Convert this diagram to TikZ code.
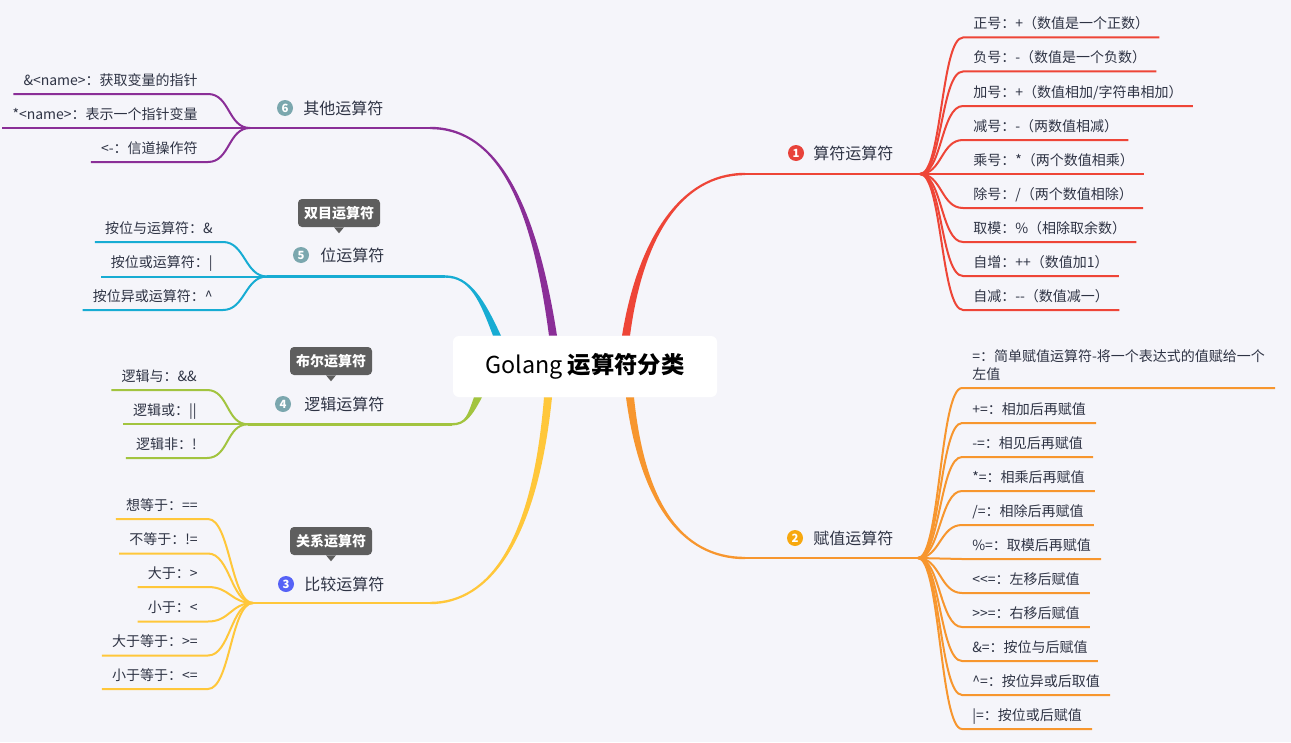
\documentclass[tikz,border=0pt]{standalone}
\usepackage{fontspec}
\setmainfont{Noto Sans CJK SC}
\usepackage{xcolor}
\usepackage{tikz}
\usetikzlibrary{calc}

\definecolor{bgc}{HTML}{F5F5FA}
\definecolor{cred}{HTML}{EE4537}
\definecolor{corange}{HTML}{F7962E}
\definecolor{cyellow}{HTML}{FFC73A}
\definecolor{cgreen}{HTML}{A2C43F}
\definecolor{cblue}{HTML}{17ACD3}
\definecolor{cpurple}{HTML}{8A2E97}
\definecolor{ctext}{HTML}{2E3344}
\definecolor{ctip}{HTML}{5E5E5E}
\definecolor{bred}{HTML}{E8423A}
\definecolor{bamber}{HTML}{F7A80F}
\definecolor{bindigo}{HTML}{5662F6}
\definecolor{bteal}{HTML}{7BA7AE}

% tapered main branch: colour, start, control 1, control 2, end, end offsets
\newcommand{\trunk}[7]{%
  \fill[#1] ($(#2)+(-4,0)$) .. controls ($(#3)+(-2.5,0)$) and ($(#4)+(#6)$) .. ($(#5)+(#6)$)
    -- ($(#5)+(#7)$) .. controls ($(#4)+(#7)$) and ($(#3)+(2.5,0)$) .. ($(#2)+(4,0)$) -- cycle;}

\begin{document}
\begin{tikzpicture}[
    x=0.75pt, y=-0.75pt,
    root/.style={
        fill=white,
        rounded corners=4.5pt,
        minimum width=198pt,
        minimum height=45.75pt,
        font=\fontsize{17.5}{20}\selectfont,
        text=black
    },
    topic/.style={anchor=west, inner sep=0pt, text=ctext, font=\fontsize{12}{14}\selectfont},
    badge/.style={circle, fill=#1, minimum size=12pt, inner sep=0pt, text=white,
        font=\fontsize{8.5}{9}\selectfont\bfseries},
    tip/.style={
        fill=ctip,
        rounded corners=3pt,
        text=white,
        font=\fontsize{10.5}{12}\selectfont\bfseries,
        minimum width=61.5pt,
        minimum height=21pt,
        inner sep=2pt
    },
    leaf/.style={font=\fontsize{10.5}{13.5}\selectfont, text=ctext, inner xsep=7.5pt,
        inner ysep=3.9pt, text height=7.9pt, text depth=2.6pt},
    leafr/.style={leaf, anchor=south west},
    leafl/.style={leaf, anchor=south east},
    twig/.style={line width=1.5pt, draw=#1},
    bar/.style={line width=1.9pt, draw=#1}
]

\fill[bgc] (0,0) rectangle (1291,742);
\useasboundingbox (0,0) rectangle (1291,742);

\node[root] (root) at (585,366.5) {Golang \textbf{运算符分类}};

\coordinate (s1) at ($(root.north)+(41,0)$);
\coordinate (s2) at ($(root.south)+(45,0)$);
\coordinate (s3) at ($(root.south)+(-37,0)$);
\coordinate (s4) at ($(root.south)+(-107,0)$);
\coordinate (s5) at ($(root.north)+(-88,0)$);
\coordinate (s6) at ($(root.north)+(-32,0)$);

\coordinate (e1) at (745,174);
\coordinate (e2) at (745,558);
\coordinate (e3) at (430,603);
\coordinate (e4) at (452,424.3);
\coordinate (e5) at (445,276.5);
\coordinate (e6) at (430,128);

\coordinate (f1) at (920,174);
\coordinate (f2) at (918,558);
\coordinate (f3) at (253,603);
\coordinate (f4) at (248,424.3);
\coordinate (f5) at (267,276.5);
\coordinate (f6) at (250,128);

\trunk{cred}{s1}{640,240}{680,174}{e1}{0,-1.2}{0,1.2}
\trunk{corange}{s2}{642,500}{680,558}{e2}{0,1.2}{0,-1.2}
\trunk{cyellow}{s3}{535,540}{490,603}{e3}{0,-1.2}{0,1.2}
\trunk{cgreen}{s4}{470,415}{466,424.3}{e4}{0,-1.2}{0,1.2}
\trunk{cblue}{s5}{482,300}{470,276.5}{e5}{0,1.2}{0,-1.2}
\trunk{cpurple}{s6}{535,210}{500,128}{e6}{0,1.2}{0,-1.2}

\draw[bar=cred] (e1) -- (f1);
\draw[bar=corange] (e2) -- (f2);
\draw[bar=cyellow] (e3) -- (f3);
\draw[bar=cgreen] (e4) -- (f4);
\draw[bar=cblue] (e5) -- (f5);
\draw[bar=cpurple] (e6) -- (f6);

\node[badge=bred] (b1) at (796,153) {1};
\node[topic] (t1) at (813,153) {算符运算符};
\node[badge=bamber] (b2) at (795,538) {2};
\node[topic] (t2) at (813,538) {赋值运算符};
\node[badge=bindigo] (b3) at (286,584) {3};
\node[topic] (t3) at (304,584) {比较运算符};
\node[badge=bteal] (b4) at (283,404) {4};
\node[topic] (t4) at (304,404) {逻辑运算符};
\node[badge=bteal] (b5) at (301,255) {5};
\node[topic] (t5) at (320,255) {位运算符};
\node[badge=bteal] (b6) at (285,108) {6};
\node[topic] (t6) at (303,108) {其他运算符};

\node[tip] (k5) at (339,213) {双目运算符};
\node[tip] (k4) at (331,361) {布尔运算符};
\node[tip] (k3) at (331,541) {关系运算符};
\foreach \k in {k3,k4,k5}
    \fill[ctip] ($(\k.south)+(-5,0)$) -- ($(\k.south)+(5,0)$) -- ($(\k.south)+(0,6)$) -- cycle;

\node[leafr] (r1) at (963,37.5)  {正号：+（数值是一个正数）};
\node[leafr] (r2) at (963,71.5)  {负号：-（数值是一个负数）};
\node[leafr] (r3) at (963,106)   {加号：+（数值相加/字符串相加）};
\node[leafr] (r4) at (963,140)   {减号：-（两数值相减）};
\node[leafr] (r5) at (963,174)   {乘号：*（两个数值相乘）};
\node[leafr] (r6) at (963,208)   {除号：/（两个数值相除）};
\node[leafr] (r7) at (963,242)   {取模：\%（相除取余数）};
\node[leafr] (r8) at (963,276)   {自增：++（数值加1）};
\node[leafr] (r9) at (963,310)   {自减：-{}-（数值减一）};

\node[leafr, align=left, text height={}, text depth={}, inner ysep=5pt] (o1) at (962,388)
    {=：简单赋值运算符-将一个表达式的值赋给一个\\左值};
\node[leafr] (o2)  at (962,423)   {+=：相加后再赋值};
\node[leafr] (o3)  at (962,457)   {-=：相见后再赋值};
\node[leafr] (o4)  at (962,491)   {*=：相乘后再赋值};
\node[leafr] (o5)  at (962,525)   {/=：相除后再赋值};
\node[leafr] (o6)  at (962,559)   {\%=：取模后再赋值};
\node[leafr] (o7)  at (962,593)   {<{}<=：左移后赋值};
\node[leafr] (o8)  at (962,627)   {>{}>=：右移后赋值};
\node[leafr] (o9)  at (962,661)   {\&=：按位与后赋值};
\node[leafr] (o10) at (962,695)   {\textasciicircum=：按位异或后取值};
\node[leafr] (o11) at (962,729)   {|=：按位或后赋值};

\node[leafl] (p1) at (208,94)  {\&<name>：获取变量的指针};
\node[leafl] (p2) at (208,128) {*<name>：表示一个指针变量};
\node[leafl] (p3) at (208,162) {<-：信道操作符};

\node[leafl] (u1) at (223,242)   {按位与运算符：\&};
\node[leafl] (u2) at (223,276.5) {按位或运算符：|};
\node[leafl] (u3) at (223,310)   {按位异或运算符：\textasciicircum};

\node[leafl] (g1) at (207,390)   {逻辑与：\&\&};
\node[leafl] (g2) at (207,424.3) {逻辑或：||};
\node[leafl] (g3) at (207,458)   {逻辑非：!};

\node[leafl] (y1) at (208,519)   {想等于：==};
\node[leafl] (y2) at (208,553.5) {不等于：!=};
\node[leafl] (y3) at (208,587)   {大于：>};
\node[leafl] (y4) at (208,621.5) {小于：<};
\node[leafl] (y5) at (208,655.5) {大于等于：>=};
\node[leafl] (y6) at (208,689)   {小于等于：<=};

\foreach \i in {1,...,9}
    \draw[twig=cred] (f1) .. controls +(22,0) and +(-22,0) .. (r\i.south west) -- (r\i.south east);
\foreach \i in {1,...,11}
    \draw[twig=corange] (f2) .. controls +(22,0) and +(-22,0) .. (o\i.south west) -- (o\i.south east);
\foreach \i in {1,...,6}
    \draw[twig=cyellow] (f3) .. controls +(-22,0) and +(22,0) .. (y\i.south east) -- (y\i.south west);
\foreach \i in {1,2,3}
    \draw[twig=cgreen] (f4) .. controls +(-22,0) and +(22,0) .. (g\i.south east) -- (g\i.south west);
\foreach \i in {1,2,3}
    \draw[twig=cblue] (f5) .. controls +(-22,0) and +(22,0) .. (u\i.south east) -- (u\i.south west);
\foreach \i in {1,2,3}
    \draw[twig=cpurple] (f6) .. controls +(-22,0) and +(22,0) .. (p\i.south east) -- (p\i.south west);

\end{tikzpicture}
\end{document}
